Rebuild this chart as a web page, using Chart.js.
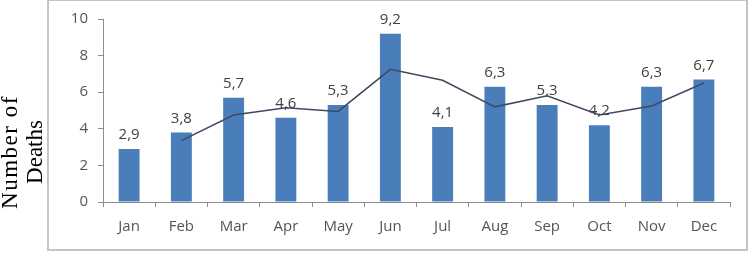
<!DOCTYPE html>
<html>
<head>
<meta charset="utf-8">
<script src="https://cdn.jsdelivr.net/npm/chart.js@4/dist/chart.umd.min.js"></script>
<style>
  html, body { margin: 0; padding: 0; background: #fff; }
  #wrap { width: 750px; height: 253px; position: relative; }
</style>
</head>
<body>
<div id="wrap"><canvas id="chart" width="750" height="253"></canvas></div>
<script>
const MONTHS = ["Jan", "Feb", "Mar", "Apr", "May", "Jun", "Jul", "Aug", "Sep", "Oct", "Nov", "Dec"];
const DEATHS = [2.9, 3.8, 5.7, 4.6, 5.3, 9.2, 4.1, 6.3, 5.3, 4.2, 6.3, 6.7];
// trend line (starts at Feb)
const TREND = [null, 3.35, 4.75, 5.15, 4.95, 7.25, 6.65, 5.2, 5.8, 4.75, 5.25, 6.5];
const Y_TITLE = ["Number of", "Deaths"];

const BAR_BLUE = "#4a7ebb";
const AXIS_GREY = "#8c8c8c";
const TICK_TEXT = "#555555";

// grey frame round the plot plus the serif axis title sitting outside it
const frameAndTitle = {
  id: "frameAndTitle",
  beforeDraw(chart) {
    const ctx = chart.ctx;
    ctx.save();
    ctx.strokeStyle = "#c4c4c4";
    ctx.lineWidth = 2;
    ctx.strokeRect(48, 0, 699, 250);
    ctx.fillStyle = "#000";
    ctx.font = "23px 'Liberation Serif', 'Times New Roman', serif";
    ctx.textAlign = "center";
    ctx.textBaseline = "alphabetic";
    ctx.translate(17, 152);
    ctx.rotate(-Math.PI / 2);
    ctx.letterSpacing = "1.5px";
    ctx.fillText(Y_TITLE[0], 0, 0);
    ctx.letterSpacing = "0px";
    ctx.fillText(Y_TITLE[1], 0, 25);
    ctx.restore();
  },
};

// value printed above each bar, decimal comma as in the source
const valueLabels = {
  id: "valueLabels",
  afterDatasetsDraw(chart) {
    const ctx = chart.ctx;
    const meta = chart.getDatasetMeta(1);
    ctx.save();
    ctx.fillStyle = "#404040";
    ctx.font = "15px 'Open Sans', sans-serif";
    ctx.textAlign = "center";
    ctx.textBaseline = "middle";
    meta.data.forEach((bar, i) => {
      ctx.fillText(DEATHS[i].toFixed(1).replace(".", ","), bar.x, bar.y - 14);
    });
    ctx.restore();
  },
};

new Chart(document.getElementById("chart"), {
  type: "bar",
  data: {
    labels: MONTHS,
    datasets: [
      {
        type: "line",
        data: TREND,
        borderColor: "#3d4a60",
        borderWidth: 1.5,
        pointRadius: 0,
        tension: 0,
        order: 0,
      },
      {
        data: DEATHS,
        backgroundColor: BAR_BLUE,
        barPercentage: 0.4,
        categoryPercentage: 1,
        order: 1,
      },
    ],
  },
  options: {
    responsive: false,
    animation: false,
    layout: { padding: { left: 0, right: 20, top: 16, bottom: 0 } },
    plugins: { legend: { display: false }, tooltip: { enabled: false } },
    scales: {
      x: {
        afterFit: (s) => { s.height = 51; },
        grid: { drawOnChartArea: false, tickLength: 5, color: AXIS_GREY },
        border: { color: AXIS_GREY },
        ticks: { color: TICK_TEXT, font: { family: "'Open Sans', sans-serif", size: 15 }, padding: 11 },
      },
      y: {
        min: 0,
        max: 10,
        afterFit: (s) => { s.width = 103; },
        grid: { drawOnChartArea: false, tickLength: 5, color: AXIS_GREY },
        border: { color: AXIS_GREY },
        ticks: { stepSize: 2, color: TICK_TEXT, font: { family: "'Open Sans', sans-serif", size: 15 }, padding: 10 },
      },
    },
  },
  plugins: [frameAndTitle, valueLabels],
});
</script>
</body>
</html>
